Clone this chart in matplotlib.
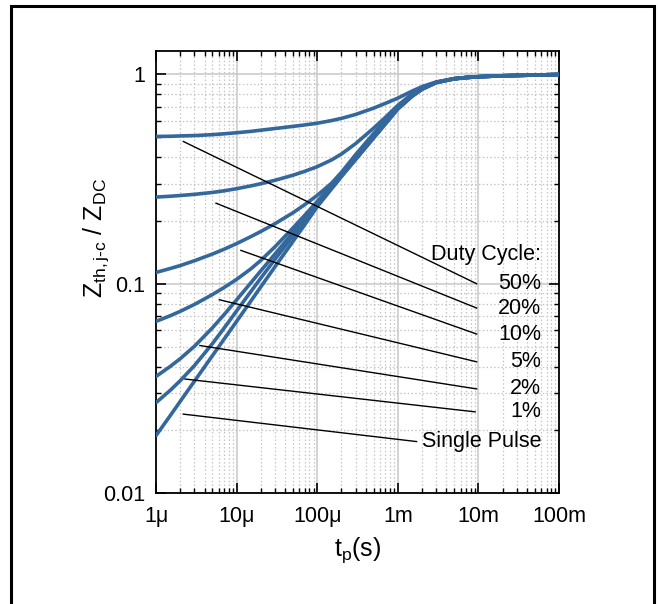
import matplotlib
matplotlib.use('Agg')
import matplotlib.pyplot as plt
import matplotlib.patches as mpatches
from matplotlib.ticker import LogLocator, FixedLocator, FixedFormatter, NullFormatter

# ---------------- data ----------------
tp = [1e-6, 1.5e-6, 2e-6, 3e-6, 5e-6, 7e-6, 1e-5, 1.5e-5, 2e-5, 3e-5, 5e-5, 7e-5,
      1e-4, 1.5e-4, 2e-4, 3e-4, 5e-4, 7e-4, 1e-3, 1.5e-3, 2e-3, 3e-3, 5e-3, 7e-3,
      1e-2, 2e-2, 5e-2, 1e-1]

z_d50 = [0.504, 0.505, 0.507, 0.509, 0.514, 0.519, 0.525, 0.533, 0.540, 0.550, 0.563, 0.572,
         0.583, 0.600, 0.615, 0.642, 0.688, 0.725, 0.768, 0.830, 0.872, 0.918, 0.952, 0.964,
         0.973, 0.983, 0.991, 0.996]
z_d20 = [0.2588, 0.2612, 0.2633, 0.2667, 0.2723, 0.2773, 0.2838, 0.2926, 0.2998, 0.3113, 0.3291, 0.3435,
         0.3616, 0.3890, 0.4157, 0.4660, 0.5518, 0.6216, 0.7093, 0.805, 0.860, 0.915, 0.951, 0.963,
         0.972, 0.982, 0.990, 0.996]
z_d10 = [0.1130, 0.1180, 0.1219, 0.1285, 0.1383, 0.1459, 0.1552, 0.1675, 0.1774, 0.1932, 0.2178, 0.2382,
         0.2636, 0.301, 0.340, 0.413, 0.520, 0.600, 0.694, 0.790, 0.852, 0.913, 0.951, 0.963,
         0.972, 0.982, 0.990, 0.996]
z_d05 = [0.0660, 0.0702, 0.0737, 0.0795, 0.0886, 0.0958, 0.1047, 0.1175, 0.1291, 0.1500, 0.1842, 0.2119,
         0.2466, 0.2942, 0.3343, 0.4018, 0.507, 0.589, 0.690, 0.787, 0.850, 0.912, 0.950, 0.963,
         0.972, 0.982, 0.990, 0.996]
z_d02 = [0.0360, 0.0402, 0.0438, 0.0502, 0.0614, 0.0711, 0.0836, 0.1008, 0.1151, 0.1386, 0.1754, 0.2047,
         0.2412, 0.2902, 0.3307, 0.3977, 0.5020, 0.5848, 0.6878, 0.786, 0.849, 0.912, 0.950, 0.963,
         0.972, 0.982, 0.990, 0.996]
z_d01 = [0.0270, 0.0309, 0.0344, 0.0406, 0.0516, 0.0613, 0.0740, 0.0915, 0.1063, 0.1307, 0.1687, 0.1987,
         0.2355, 0.2847, 0.3253, 0.3925, 0.4964, 0.5794, 0.6827, 0.785, 0.848, 0.912, 0.950, 0.963,
         0.972, 0.982, 0.990, 0.996]
z_single = [0.0188, 0.0234, 0.0274, 0.0342, 0.0452, 0.0543, 0.0660, 0.0824, 0.0966, 0.1205, 0.1590, 0.1910,
            0.2328, 0.2827, 0.3247, 0.3913, 0.4951, 0.5778, 0.681, 0.783, 0.847, 0.912, 0.950, 0.963,
            0.972, 0.982, 0.990, 0.996]

curves = [z_d50, z_d20, z_d10, z_d05, z_d02, z_d01, z_single]

labels = ['50%', '20%', '10%', '5%', '2%', '1%', 'Single Pulse']
# leader lines (start x, start y, end x, end y) in data units
lead_x0 = [2.18e-6, 5.55e-6, 1.13e-5, 6.1e-6, 3.5e-6, 2.29e-6, 2.18e-6]
lead_y0 = [0.477, 0.242, 0.144, 0.0837, 0.0506, 0.0350, 0.0238]
lead_x1 = [9.5e-3, 9.5e-3, 9.5e-3, 9.5e-3, 9.5e-3, 9.1e-3, 1.71e-3]
lead_y1 = [0.0998, 0.0764, 0.0574, 0.0423, 0.0314, 0.0244, 0.0176]
label_x = 0.0598
title_y = 0.137

xticks = [1e-6, 1e-5, 1e-4, 1e-3, 1e-2, 1e-1]
xticklabels = ['1\u03bc', '10\u03bc', '100\u03bc', '1m', '10m', '100m']
yticks = [0.01, 0.1, 1]
yticklabels = ['0.01', '0.1', '1']

# ---------------- style ----------------
plt.rcParams['font.family'] = ['Liberation Sans', 'DejaVu Sans']
plt.rcParams['mathtext.fontset'] = 'custom'
plt.rcParams['mathtext.rm'] = 'Liberation Sans'
plt.rcParams['mathtext.it'] = 'Liberation Sans'

blue = '#34689c'

fig = plt.figure(figsize=(6.58, 6.04), dpi=100)
ax = fig.add_axes([0.2371, 0.1838, 0.6125, 0.7318])

# outer frame
fig.add_artist(mpatches.Rectangle((11/658, -0.05), (654-11)/658, 1.045 - 3/604,
                                  transform=fig.transFigure, fill=False,
                                  edgecolor='black', linewidth=2.2))

ax.set_xscale('log')
ax.set_yscale('log')
ax.set_xlim(1e-6, 1e-1)
ax.set_ylim(0.01, 1.29)

ax.xaxis.set_major_locator(FixedLocator(xticks))
ax.xaxis.set_major_formatter(FixedFormatter(xticklabels))
ax.yaxis.set_major_locator(FixedLocator(yticks))
ax.yaxis.set_major_formatter(FixedFormatter(yticklabels))
ax.xaxis.set_minor_locator(LogLocator(base=10, subs=range(2, 10), numticks=20))
ax.yaxis.set_minor_locator(LogLocator(base=10, subs=range(2, 10), numticks=20))
ax.xaxis.set_minor_formatter(NullFormatter())
ax.yaxis.set_minor_formatter(NullFormatter())

ax.grid(which='major', color='#c8c8c8', linewidth=1.1, linestyle='-')
ax.grid(which='minor', color='#c4c4c4', linewidth=0.9, linestyle=(0, (1.2, 1.8)))
ax.set_axisbelow(True)

ax.tick_params(which='both', direction='in', top=True, right=True, colors='black')
ax.tick_params(which='major', length=7.2, width=1.2, labelsize=15.5)
ax.tick_params(which='minor', length=3.6, width=1.0)
ax.tick_params(axis='x', which='major', pad=9.5)
ax.tick_params(axis='y', which='major', pad=8)
for s in ax.spines.values():
    s.set_linewidth(1.3)

for z in curves:
    ax.plot(tp, z, color=blue, linewidth=2.6, solid_capstyle='round',
            solid_joinstyle='round', zorder=3)

for i in range(len(labels)):
    ax.plot([lead_x0[i], lead_x1[i]], [lead_y0[i], lead_y1[i]], color='black',
            linewidth=1.0, zorder=4)
    ax.text(label_x, lead_y1[i], labels[i], ha='right', va='center', fontsize=15.5, zorder=5)
ax.text(label_x, title_y, 'Duty Cycle:', ha='right', va='center', fontsize=15.5, zorder=5)

ax.set_xlabel(r'$\mathregular{t_p}$(s)', fontsize=18)
ax.set_ylabel(r'$\mathregular{Z_{th,j\text{-}c}}$ / $\mathregular{Z_{DC}}$', fontsize=18)
ax.xaxis.set_label_coords(0.5, -0.095)
ax.yaxis.set_label_coords(-0.112, 0.577)

fig.savefig('out.png', dpi=100)
